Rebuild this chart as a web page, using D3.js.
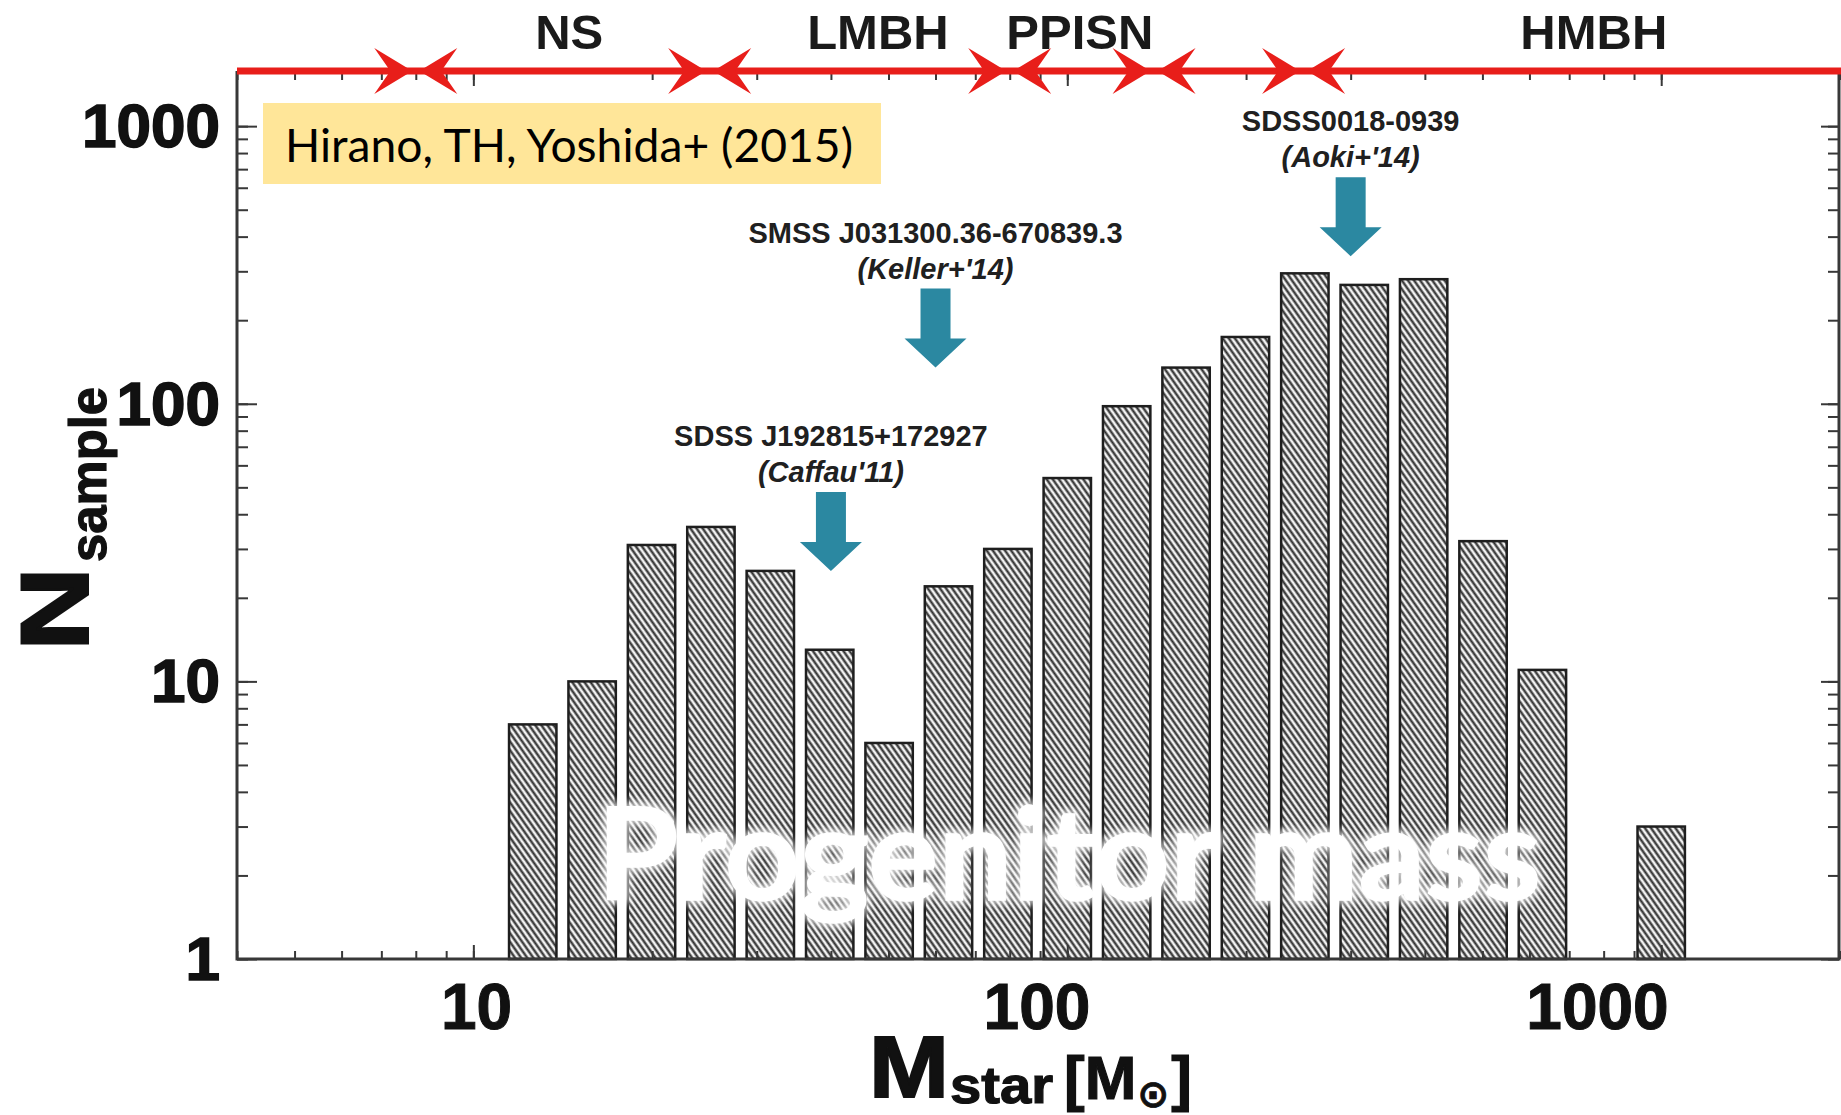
<!DOCTYPE html>
<html><head><meta charset="utf-8">
<script src="https://cdn.jsdelivr.net/npm/d3@7"></script>
<style>
html,body{margin:0;padding:0;background:#fff;}
svg{display:block;}
</style></head>
<body>
<svg id="chart" width="1841" height="1115"></svg>
<script>
// Histogram: log10 of bin-centre stellar mass (0.1 dex bins) and sample counts
const binLogMass = [1.1, 1.2, 1.3, 1.4, 1.5, 1.6, 1.7, 1.8, 1.9, 2.0,
                    2.1, 2.2, 2.3, 2.4, 2.5, 2.6, 2.7, 2.8, 2.9, 3.0];
const binCounts  = [7, 10, 31, 36, 25, 13, 6, 22, 30, 54,
                    98, 135, 174, 295, 268, 281, 32, 11, 0, 3];
const binHalfWidth = 0.05; // dex

// Final-fate regimes marked along the top axis (boundaries in solar masses)
const regimeBounds = [8, 25, 80, 140, 250];
const regimeNames = ["NS", "LMBH", "PPISN", "HMBH"];
const regimeLabelMass = [14.5, 48, 105, 770];

// Observed metal-poor stars and their inferred progenitor masses
const starNames = ["SDSS J192815+172927", "SMSS J031300.36-670839.3", "SDSS0018-0939"];
const starRefs = ["(Caffau'11)", "(Keller+'14)", "(Aoki+'14)"];
const starMass = [40, 60, 300];
const starArrowTip = [25, 135, 340];

// Labelled axis values
const xTickLabels = [10, 100, 1000];
const yTickLabels = [1, 10, 100, 1000];

const svg = d3.select("#chart");
const W = 1841, H = 1115;

const x = d3.scaleLog().domain([4, 2000]).range([237, 1840]);
const y = d3.scaleLog().domain([1, 1580]).range([959, 71]);
// placement of the printed mass labels under the bottom axis
const xLabelPos = d3.scaleLog().domain([10, 1000]).range([476, 1597]);

const axisColor = "#383838";
const boldFont = "'Liberation Sans', Arial, Helvetica, sans-serif";

// ---- hatch pattern for the bars
const defs = svg.append("defs");
const pat = defs.append("pattern")
  .attr("id", "hatch")
  .attr("patternUnits", "userSpaceOnUse")
  .attr("width", 5).attr("height", 10)
  .attr("patternTransform", "rotate(-35)");
pat.append("rect").attr("width", 5).attr("height", 10).attr("fill", "#f2f2f2");
pat.append("line").attr("x1", 2.5).attr("x2", 2.5).attr("y1", -1).attr("y2", 11)
  .attr("stroke", "#2b2b2b").attr("stroke-width", 2.2);

const glow = defs.append("filter").attr("id", "glow")
  .attr("x", "-10%").attr("y", "-30%").attr("width", "120%").attr("height", "160%");
glow.append("feGaussianBlur").attr("stdDeviation", 4);

const soft = defs.append("filter").attr("id", "soft");
soft.append("feGaussianBlur").attr("stdDeviation", 0.7);

// ---- bars
const bins = binLogMass.map((c, i) => ({
  lo: Math.pow(10, c - binHalfWidth),
  hi: Math.pow(10, c + binHalfWidth),
  n: binCounts[i]
})).filter(d => d.n > 0);

svg.append("g").selectAll("rect").data(bins).join("rect")
  .attr("x", d => x(d.lo) + 6)
  .attr("width", d => x(d.hi) - x(d.lo) - 12)
  .attr("y", d => y(d.n))
  .attr("height", d => y(1) - y(d.n))
  .attr("fill", "url(#hatch)")
  .attr("stroke", "#1e1e1e")
  .attr("stroke-width", 2.5);

// ---- axes (ticks point inward on all four sides)
const xAll = x.ticks();
const yAll = y.ticks();
const xMajor = xAll.filter(v => xTickLabels.includes(v));
const yMajor = yAll.filter(v => yTickLabels.includes(v));

function tickAxis(gen, vals, size, tx, ty) {
  const g = svg.append("g").attr("transform", `translate(${tx},${ty})`)
    .call(gen.tickValues(vals).tickSize(size).tickFormat(""));
  g.select(".domain").remove();
  g.selectAll(".tick line").attr("stroke", axisColor).attr("stroke-width", 2);
  return g;
}
// bottom
tickAxis(d3.axisTop(x), xAll, 8, 0, y(1));
tickAxis(d3.axisTop(x), xMajor, 14, 0, y(1));
// top
tickAxis(d3.axisBottom(x), xAll, 9, 0, 71);
tickAxis(d3.axisBottom(x), xMajor, 15, 0, 71);
// left
tickAxis(d3.axisRight(y), yAll, 11, x(4), 0);
tickAxis(d3.axisRight(y), yMajor, 20, x(4), 0);
// right
tickAxis(d3.axisLeft(y), yAll, 11, x(2000) - 1, 0);
tickAxis(d3.axisLeft(y), yMajor, 18, x(2000) - 1, 0);

// frame
svg.append("path")
  .attr("d", `M${x(4)},71 V${y(1)} H${x(2000) - 1} V71`)
  .attr("fill", "none").attr("stroke", axisColor).attr("stroke-width", 3);

// tick labels
const yLab = svg.append("g").attr("transform", `translate(${x(4)},0)`)
  .call(d3.axisLeft(y).tickValues(yMajor).tickSize(0).tickPadding(17)
    .tickFormat(d3.format("d")));
yLab.select(".domain").remove();
yLab.selectAll("text")
  .attr("font-family", boldFont).attr("font-weight", "bold")
  .attr("font-size", 62).attr("fill", "#111")
  .attr("stroke", "#111").attr("stroke-width", 1.6)
  .attr("dy", "0.33em");

const xLab = svg.append("g").attr("transform", `translate(0,${y(1)})`)
  .call(d3.axisBottom(x).tickValues(xMajor).tickSize(0).tickPadding(0)
    .tickFormat(d3.format("d")));
xLab.select(".domain").remove();
xLab.selectAll("text")
  .attr("font-family", boldFont).attr("font-weight", "bold")
  .attr("font-size", 64).attr("fill", "#111")
  .attr("stroke", "#111").attr("stroke-width", 1)
  .attr("dy", 0).attr("y", 70)
  .attr("x", d => xLabelPos(d) - x(d));

// ---- axis titles
const yTitle = svg.append("g").attr("transform", "translate(88,651) rotate(-90)");
yTitle.append("text").text("N")
  .attr("font-family", boldFont).attr("font-weight", "bold")
  .attr("font-size", 96).attr("fill", "#111")
  .attr("stroke", "#111").attr("stroke-width", 2)
  .attr("textLength", 84).attr("lengthAdjust", "spacingAndGlyphs");
yTitle.append("text").text("sample")
  .attr("x", 89).attr("y", 18)
  .attr("font-family", boldFont).attr("font-weight", "bold")
  .attr("font-size", 52).attr("fill", "#111")
  .attr("stroke", "#111").attr("stroke-width", 1.2)
  .attr("textLength", 175).attr("lengthAdjust", "spacingAndGlyphs");

const xTitle = svg.append("g").attr("transform", "translate(869,1097)")
  .attr("font-family", boldFont).attr("font-weight", "bold").attr("fill", "#111")
  .attr("stroke", "#111");
xTitle.append("text").text("M").attr("font-size", 88).attr("stroke-width", 2)
  .attr("textLength", 80).attr("lengthAdjust", "spacingAndGlyphs");
xTitle.append("text").text("star").attr("x", 81).attr("y", 6)
  .attr("font-size", 52).attr("stroke-width", 1.2)
  .attr("textLength", 103).attr("lengthAdjust", "spacingAndGlyphs");
const unit = xTitle.append("text").attr("x", 195).attr("y", 2)
  .attr("font-size", 62).attr("stroke-width", 1.2);
unit.append("tspan").text("[M");
unit.append("tspan").text("⊙").attr("font-size", 38).attr("dy", 8).attr("dx", 1)
  .attr("font-family", "'DejaVu Sans', sans-serif").attr("stroke-width", 0.8);
unit.append("tspan").text("]").attr("dy", -8).attr("dx", 2);

// ---- regime bar along the top axis
const red = "#e81e1a";
svg.append("line")
  .attr("x1", x(4)).attr("x2", W).attr("y1", 71).attr("y2", 71)
  .attr("stroke", red).attr("stroke-width", 7);

const headPath = "M0,0 L-38,-23 L-22,0 L-38,23 Z";
const heads = svg.append("g");
regimeBounds.forEach(b => {
  heads.append("path").attr("d", headPath).attr("fill", red)
    .attr("transform", `translate(${x(b) - 3.5},71)`);
  heads.append("path").attr("d", headPath).attr("fill", red)
    .attr("transform", `translate(${x(b) + 3.5},71) scale(-1,1)`);
});

svg.append("g").selectAll("text").data(regimeNames).join("text")
  .text(d => d)
  .attr("x", (d, i) => x(regimeLabelMass[i]))
  .attr("y", 49)
  .attr("text-anchor", "middle")
  .attr("font-family", boldFont).attr("font-weight", "bold")
  .attr("font-size", 49).attr("fill", "#1a1a1a");

// ---- observed-star annotations
const teal = "#2b88a1";
const arrowPath = "M-15,-79 L15,-79 L15,-29 L31,-29 L0,0 L-31,-29 L-15,-29 Z";
const ann = svg.append("g").selectAll("g").data(starNames).join("g")
  .attr("transform", (d, i) => `translate(${x(starMass[i])},${y(starArrowTip[i])})`);
ann.append("path").attr("d", arrowPath).attr("fill", teal);
ann.append("text").text(d => d)
  .attr("y", -125).attr("text-anchor", "middle")
  .attr("font-family", boldFont).attr("font-weight", "bold")
  .attr("font-size", 29).attr("fill", "#202020");
ann.append("text").text((d, i) => starRefs[i])
  .attr("y", -89).attr("text-anchor", "middle")
  .attr("font-family", boldFont).attr("font-weight", "bold").attr("font-style", "italic")
  .attr("font-size", 29).attr("fill", "#202020");

// ---- citation box
svg.append("rect").attr("x", 263).attr("y", 103).attr("width", 618).attr("height", 81)
  .attr("fill", "#ffe699");
svg.append("text").text("Hirano, TH, Yoshida+ (2015)")
  .attr("x", 285).attr("y", 162)
  .attr("font-family", "Lato, 'Open Sans', sans-serif")
  .attr("font-size", 47).attr("fill", "#000")
  .attr("textLength", 568).attr("lengthAdjust", "spacingAndGlyphs");

// ---- overlay title
const big = svg.append("g");
big.append("text").text("Progenitor mass")
  .attr("x", 597).attr("y", 900)
  .attr("font-family", "Lato, 'Open Sans', sans-serif").attr("font-weight", "bold")
  .attr("font-size", 128).attr("fill", "#ffffff").attr("opacity", 0.8)
  .attr("stroke", "#ffffff").attr("stroke-width", 8)
  .attr("textLength", 944).attr("lengthAdjust", "spacingAndGlyphs")
  .attr("filter", "url(#glow)");
big.append("text").text("Progenitor mass")
  .attr("x", 597).attr("y", 900)
  .attr("font-family", "Lato, 'Open Sans', sans-serif").attr("font-weight", "bold")
  .attr("font-size", 128).attr("fill", "#ffffff")
  .attr("stroke", "#ffffff").attr("stroke-width", 1.5)
  .attr("textLength", 944).attr("lengthAdjust", "spacingAndGlyphs")
  .attr("filter", "url(#soft)");
</script>
</body></html>
